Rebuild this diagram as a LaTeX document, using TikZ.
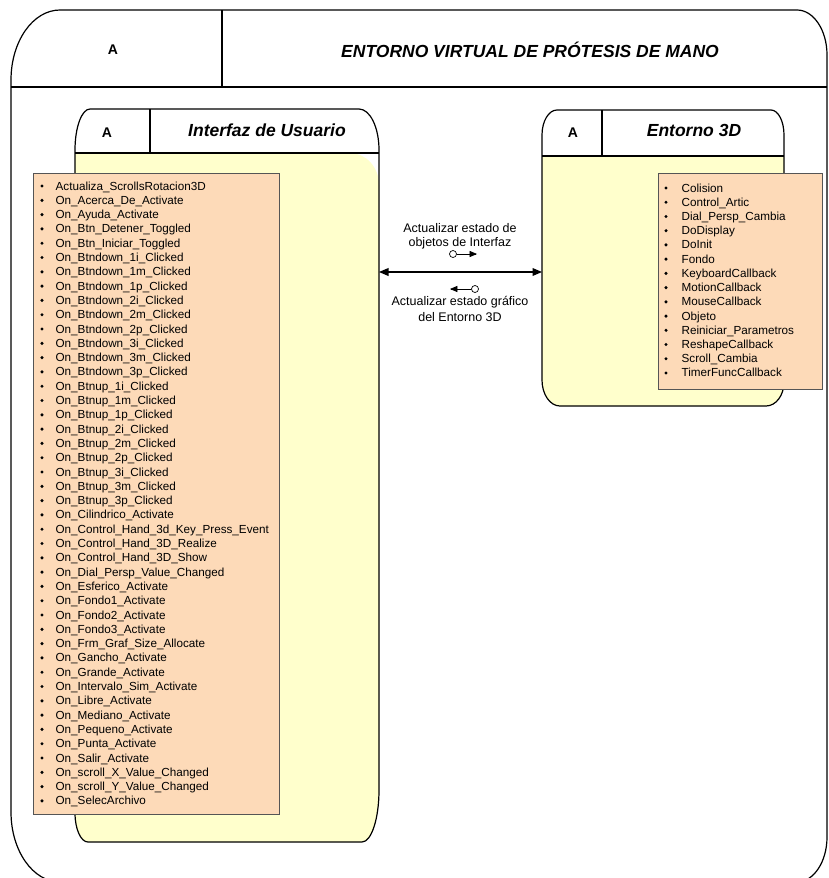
\documentclass[tikz,border=0pt]{standalone}
\usepackage{fontspec}
\setmainfont{Liberation Sans}
\usetikzlibrary{arrows}
\definecolor{cuerpo}{RGB}{255,255,204}
\definecolor{lista}{RGB}{253,218,184}
\definecolor{borde}{RGB}{85,85,85}

\begin{document}
\begin{tikzpicture}[x=1pt,y=-1pt,>=triangle 45,line width=1.2pt,
	titulo/.style={inner sep=0pt,font=\fontsize{17.5}{20}\selectfont\bfseries\itshape},
	letra/.style={inner sep=0pt,font=\fontsize{14}{16}\selectfont\bfseries},
	elem/.style={anchor=base west,inner sep=0pt,font=\fontsize{11.7}{14}\selectfont},
	caja/.style={fill=lista,draw=borde,line width=1pt},
	nota/.style={align=center,inner sep=0pt,font=\fontsize{12.5}{14.5}\selectfont},
	bolita/.style={circle,draw,fill=white,line width=0.7pt,inner sep=0pt,minimum size=7pt}]
	\path[use as bounding box] (0,0) rectangle (829,878);
	\clip (0,0) rectangle (829,878);
	\pgfmathsetmacro{\dy}{14.3}
	% marco general
	\draw (11,80) arc[start angle=180,end angle=270,x radius=49,y radius=70] -- (797,10)
		arc[start angle=270,end angle=360,x radius=30,y radius=45] -- (827,837)
		arc[start angle=0,end angle=90,x radius=30,y radius=45] -- (60,882)
		arc[start angle=90,end angle=180,x radius=49,y radius=70] -- cycle;
	\draw (11,87) -- (827,87);
	\draw (222,10) -- (222,87);
	\node[letra] (marcoA) at (113,50) {A};
	\node[titulo] (marcoT) at (530,50) {ENTORNO VIRTUAL DE PRÓTESIS DE MANO};
	% interfaz de usuario
	\fill[cuerpo] (75,153) -- (350,153) arc[start angle=270,end angle=360,x radius=29,y radius=32]
		-- (379,790) arc[start angle=0,end angle=90,x radius=17,y radius=52] -- (88,842)
		arc[start angle=90,end angle=180,x radius=13,y radius=29] -- cycle;
	\draw (75,150) arc[start angle=180,end angle=270,x radius=15,y radius=41] -- (359,109)
		arc[start angle=270,end angle=360,x radius=20,y radius=41] -- (379,790)
		arc[start angle=0,end angle=90,x radius=17,y radius=52] -- (88,842)
		arc[start angle=90,end angle=180,x radius=13,y radius=29] -- cycle;
	\draw (75,153) -- (379,153);
	\draw (150,109) -- (150,153);
	\node[letra] (uiA) at (107,133) {A};
	\node[titulo] (uiT) at (267,130) {Interfaz de Usuario};
	\draw[caja] (33,173) rectangle (279,814);
	\foreach \fn [count=\n] in {Actualiza\_ScrollsRotacion3D,On\_Acerca\_De\_Activate,On\_Ayuda\_Activate,
		On\_Btn\_Detener\_Toggled,On\_Btn\_Iniciar\_Toggled,On\_Btndown\_1i\_Clicked,On\_Btndown\_1m\_Clicked,
		On\_Btndown\_1p\_Clicked,On\_Btndown\_2i\_Clicked,On\_Btndown\_2m\_Clicked,On\_Btndown\_2p\_Clicked,
		On\_Btndown\_3i\_Clicked,On\_Btndown\_3m\_Clicked,On\_Btndown\_3p\_Clicked,On\_Btnup\_1i\_Clicked,
		On\_Btnup\_1m\_Clicked,On\_Btnup\_1p\_Clicked,On\_Btnup\_2i\_Clicked,On\_Btnup\_2m\_Clicked,
		On\_Btnup\_2p\_Clicked,On\_Btnup\_3i\_Clicked,On\_Btnup\_3m\_Clicked,On\_Btnup\_3p\_Clicked,
		On\_Cilindrico\_Activate,On\_Control\_Hand\_3d\_Key\_Press\_Event,On\_Control\_Hand\_3D\_Realize,
		On\_Control\_Hand\_3D\_Show,On\_Dial\_Persp\_Value\_Changed,On\_Esferico\_Activate,On\_Fondo1\_Activate,
		On\_Fondo2\_Activate,On\_Fondo3\_Activate,On\_Frm\_Graf\_Size\_Allocate,On\_Gancho\_Activate,
		On\_Grande\_Activate,On\_Intervalo\_Sim\_Activate,On\_Libre\_Activate,On\_Mediano\_Activate,
		On\_Pequeno\_Activate,On\_Punta\_Activate,On\_Salir\_Activate,On\_scroll\_X\_Value\_Changed,
		On\_scroll\_Y\_Value\_Changed,On\_SelecArchivo}
	{
		\pgfmathsetmacro{\yy}{186+\dy*(\n-1)}
		\fill (42,\yy) circle (1.7);
		\node[elem] (ui\n) at (55,\yy+4) {\fn};
	}
	% entorno 3D
	\fill[cuerpo] (542,156) -- (784,156) -- (784,382)
		arc[start angle=0,end angle=90,x radius=18,y radius=24] -- (560,406)
		arc[start angle=90,end angle=180,x radius=18,y radius=26] -- cycle;
	\draw (542,135) arc[start angle=180,end angle=270,x radius=15,y radius=25] -- (771,110)
		arc[start angle=270,end angle=360,x radius=13,y radius=25] -- (784,382)
		arc[start angle=0,end angle=90,x radius=18,y radius=24] -- (560,406)
		arc[start angle=90,end angle=180,x radius=18,y radius=26] -- cycle;
	\draw (542,156) -- (784,156);
	\draw (602,110) -- (602,156);
	\node[letra] (eA) at (573,133) {A};
	\node[titulo] (eT) at (694,130) {Entorno 3D};
	\draw[caja] (658,173) rectangle (822,389);
	\foreach \fn [count=\n] in {Colision,Control\_Artic,Dial\_Persp\_Cambia,DoDisplay,DoInit,Fondo,
		KeyboardCallback,MotionCallback,MouseCallback,Objeto,Reiniciar\_Parametros,ReshapeCallback,
		Scroll\_Cambia,TimerFuncCallback}
	{
		\pgfmathsetmacro{\yy}{188+14.23*(\n-1)}
		\fill (666,\yy) circle (1.7);
		\node[elem] (e\n) at (681,\yy+4) {\fn};
	}
	% mensajes
	\coordinate (uiB) at (379,272);
	\coordinate (eB) at (542,272);
	\draw[<->] (uiB) -- (eB);
	\node[nota] (msg1) at (460,236.5) {Actualizar estado de\\objetos de Interfaz};
	\node[nota] (msg2) at (460,309) {Actualizar estado gráfico\\[1.5pt]del Entorno 3D};
	\node[bolita] (o1) at (453,254) {};
	\coordinate (f1) at (477,254);
	\draw[->,line width=0.7pt] (o1) -- (f1);
	\node[bolita] (o2) at (475,289) {};
	\coordinate (f2) at (450,289);
	\draw[->,line width=0.7pt] (o2) -- (f2);
\end{tikzpicture}
\end{document}
